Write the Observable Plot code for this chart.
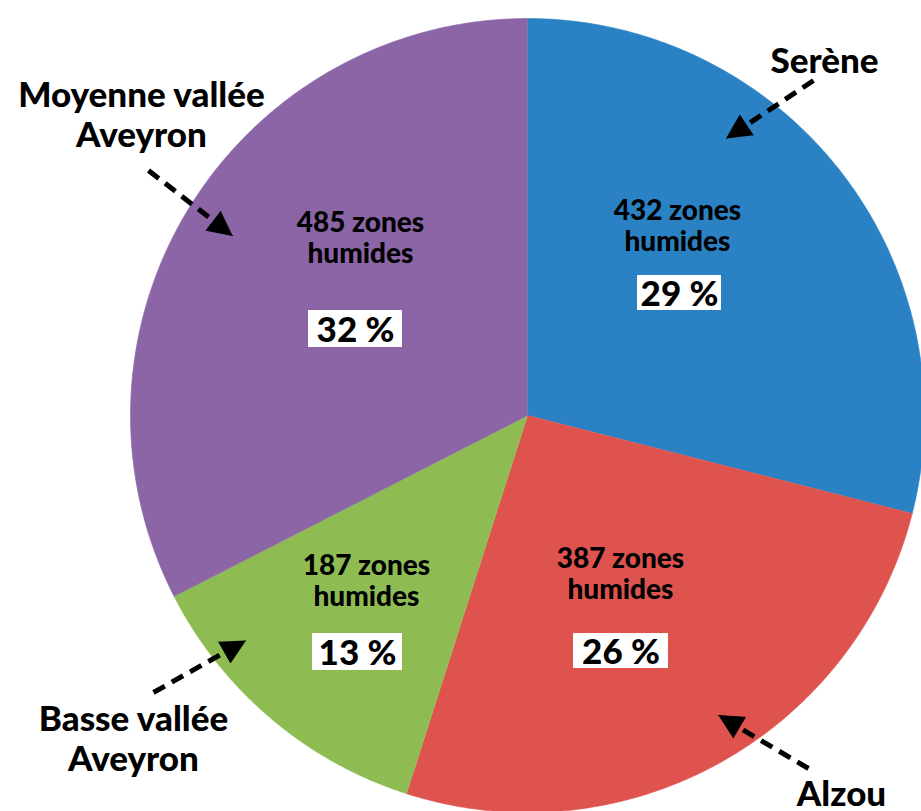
<!DOCTYPE html>
<html>
<head>
<meta charset="utf-8">
<script src="https://cdn.jsdelivr.net/npm/d3@7"></script>
<script src="https://cdn.jsdelivr.net/npm/@observablehq/plot@0.6"></script>
<style>
  html, body { margin: 0; padding: 0; background: #fff; overflow: hidden; }
  #chart svg { display: block; }
</style>
</head>
<body>
<div id="chart"></div>
<script>
// ---- data ----
const regions = ["Serène", "Alzou", "Basse vallée Aveyron", "Moyenne vallée Aveyron"];
const zones = [432, 387, 187, 485];
const percents = [29, 26, 13, 32];
const outerNames = ["Serène", "Alzou", "Basse vallée\nAveyron", "Moyenne vallée\nAveyron"];
const colors = ["#2A82C4", "#DE534E", "#8EBC53", "#8B65A6"];

// ---- layout (pixels) ----
const W = 921, H = 811;
const CX = 527, CY = 415, R = 397;
const FONT = "Lato, 'Open Sans', sans-serif";
// inner label: center x, baseline of last line ("humides")
const innerAt = [[677, 250], [620, 598], [366, 605], [360, 262]];
// percent box: center x, center y, width, height
const boxAt = [[679, 292.5, 84, 35], [620.5, 650.5, 95, 35], [357, 651.5, 90, 37], [355, 328.5, 94, 37]];
// outer label: center x, baseline of last line
const outerAt = [[824, 72], [841, 805], [133, 770], [141, 146]];
// arrows: tail -> tip
const arrows = [[813, 80, 726, 138], [808, 768, 718, 715], [153, 692, 245, 640], [148, 170, 232, 235]];

// ---- slice geometry from values ----
const arcs = d3.pie().sort(null).startAngle(0).endAngle(2 * Math.PI)(zones);
const slicePts = [];
arcs.forEach((a, i) => {
  slicePts.push({region: regions[i], x: CX, y: CY});
  const steps = Math.max(2, Math.ceil((a.endAngle - a.startAngle) / (Math.PI / 360)));
  for (let k = 0; k <= steps; k++) {
    const t = a.startAngle + (a.endAngle - a.startAngle) * k / steps;
    slicePts.push({region: regions[i], x: CX + R * Math.sin(t), y: CY - R * Math.cos(t)});
  }
});

const inner = regions.map((r, i) => ({
  region: r, x: innerAt[i][0], y: innerAt[i][1],
  text: `${zones[i]} zones\nhumides`
}));
const boxes = regions.map((r, i) => ({
  region: r,
  x1: boxAt[i][0] - boxAt[i][2] / 2, x2: boxAt[i][0] + boxAt[i][2] / 2,
  y1: boxAt[i][1] - boxAt[i][3] / 2, y2: boxAt[i][1] + boxAt[i][3] / 2,
  cx: boxAt[i][0], base: boxAt[i][1] + 13,
  text: `${percents[i]} %`
}));
const outer = regions.map((r, i) => ({region: r, x: outerAt[i][0], y: outerAt[i][1], text: outerNames[i]}));

// arrow shafts and filled triangular heads
const HEAD_LEN = 24, HEAD_HALF = 12;
const links = [];
const heads = [];
arrows.forEach(([x1, y1, x2, y2], i) => {
  const L = Math.hypot(x2 - x1, y2 - y1);
  const ux = (x2 - x1) / L, uy = (y2 - y1) / L;
  const bx = x2 - ux * HEAD_LEN, by = y2 - uy * HEAD_LEN;
  links.push({x1, y1, x2: bx + ux * 3, y2: by + uy * 3});
  heads.push(
    {k: i, x: x2, y: y2},
    {k: i, x: bx - uy * HEAD_HALF, y: by + ux * HEAD_HALF},
    {k: i, x: bx + uy * HEAD_HALF, y: by - ux * HEAD_HALF}
  );
});

const chart = Plot.plot({
  width: W, height: H, margin: 0,
  x: {domain: [0, W], range: [0, W], axis: null},
  y: {domain: [0, H], range: [0, H], axis: null},
  color: {domain: regions, range: colors},
  style: {fontFamily: FONT, background: "#fff"},
  marks: [
    Plot.line(slicePts, {x: "x", y: "y", z: "region", fill: "region", stroke: "region", strokeWidth: 0.6, curve: "linear"}),
    Plot.text(inner, {x: "x", y: "y", text: "text", fontSize: 28, fontWeight: 900, fill: "#000",
      lineAnchor: "bottom", lineHeight: 31 / 28, textAnchor: "middle", letterSpacing: "0.3px"}),
    Plot.rect(boxes, {x1: "x1", x2: "x2", y1: "y1", y2: "y2", fill: "#fff"}),
    Plot.text(boxes, {x: "cx", y: "base", text: "text", fontSize: 35, fontWeight: 900, fill: "#000",
      lineAnchor: "bottom", textAnchor: "middle", letterSpacing: "0.5px"}),
    Plot.text(outer, {x: "x", y: "y", text: "text", fontSize: 35, fontWeight: 900, fill: "#000",
      lineAnchor: "bottom", lineHeight: 40 / 35, textAnchor: "middle", letterSpacing: "0.5px"}),
    Plot.link(links, {x1: "x1", y1: "y1", x2: "x2", y2: "y2", stroke: "#000", strokeWidth: 5,
      strokeDasharray: "13,8"}),
    Plot.line(heads, {x: "x", y: "y", z: "k", fill: "#000", stroke: "#000", strokeWidth: 1, strokeLinejoin: "miter", curve: "linear"})
  ]
});
document.getElementById("chart").appendChild(chart);
</script>
</body>
</html>
